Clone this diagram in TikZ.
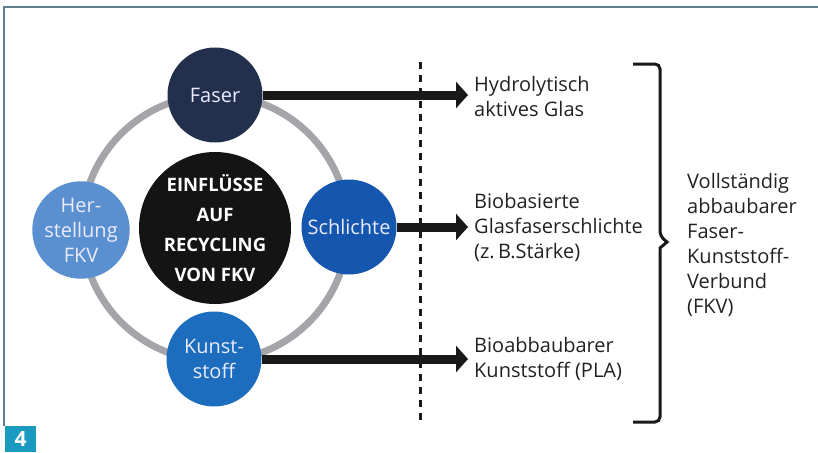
\documentclass[tikz,border=0pt]{standalone}
\usepackage{fontspec}
\setmainfont{Open Sans}
\usetikzlibrary{arrows.meta}

\definecolor{framegray}{HTML}{5F7D8C}
\definecolor{badgeblue}{HTML}{1A9AC0}
\definecolor{ringgray}{HTML}{A3A5A8}
\definecolor{faserblue}{HTML}{22304D}
\definecolor{herstblue}{HTML}{5A8FD0}
\definecolor{schlblue}{HTML}{1556AE}
\definecolor{kunstblue}{HTML}{1D6DBE}
\definecolor{inktext}{HTML}{222222}

\tikzset{
  factor/.style={circle, minimum size=95pt, inner sep=0pt, align=center,
    text=white!92!blue, font=\fontsize{20}{25}\selectfont},
  hub/.style={circle, fill=black!92, minimum size=152pt, inner sep=0pt, align=center,
    text=white, font=\fontsize{18.5}{30}\selectfont\bfseries},
  result/.style={anchor=west, align=left, inner xsep=6pt, inner ysep=0pt,
    text=inktext, font=\fontsize{20}{25}\selectfont},
  pointer/.style={line width=9pt, -{Triangle[length=12pt, width=26pt]}, color=black!90}
}

\begin{document}
\begin{tikzpicture}[x=1pt, y=-1pt]

\path [use as bounding box] (0,0) rectangle (818,452);

% FRAME
\draw [line width=2pt, color=framegray] (4,426) -- (4,7) -- (818,7);
\node [fill=badgeblue, text=white, font=\fontsize{21}{24}\selectfont\bfseries,
  minimum width=31pt, minimum height=26pt, inner sep=0pt, anchor=north west] (badge) at (5,426) {4};

% RING
\draw [line width=7pt, color=ringgray] (215,228) circle [radius=133pt];

% CIRCLES
\node [hub] (hub) at (215,228) {EINFLÜSSE\\AUF\\RECYCLING\\VON FKV};
\node [factor, fill=faserblue] (faser) at (215,95) {Faser};
\node [factor, fill=herstblue] (herst) at (81,230) {Her-\\stellung\\FKV};
\node [factor, fill=schlblue] (schlichte) at (349,227) {Schlichte};
\node [factor, fill=kunstblue] (kunst) at (214,359) {Kunst-\\stoff};

% SEPARATOR
\draw [line width=3pt, dash pattern=on 7pt off 6pt, color=black!90] (420,62) -- (420,420);

% RESULTS
\node [result] (glas) at (468,96) {Hydrolytisch\\aktives Glas};
\node [result] (staerke) at (468,227) {Biobasierte\\Glasfaserschlichte\\(z.\,B.Stärke)};
\node [result] (pla) at (468,359) {Bioabbaubarer\\Kunststoff (PLA)};

\draw [pointer] (faser) -- (faser -| glas.west);
\draw [pointer] (schlichte) -- (staerke);
\draw [pointer] (kunst) -- (pla);

% BRACE
\draw [line width=3pt, color=black!90, rounded corners=5pt] (633,64) -- (660,64) -- (660,236)
  [sharp corners] -- (667,242) -- (660,248) [rounded corners=5pt] -- (660,422) -- (633,422);
\node [result] (verbund) at (681,245) {Vollständig\\abbaubarer\\Faser-\\Kunststoff-\\Verbund\\(FKV)};

\end{tikzpicture}
\end{document}
